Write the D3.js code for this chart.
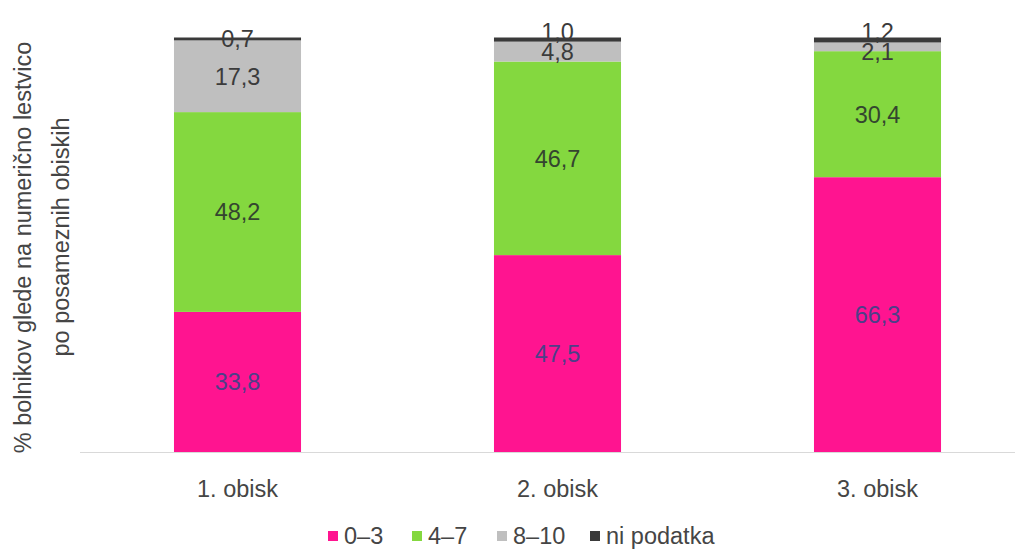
<!DOCTYPE html>
<html>
<head>
<meta charset="utf-8">
<script src="https://cdn.jsdelivr.net/npm/d3@7"></script>
<style>
  html, body { margin: 0; padding: 0; background: #ffffff; }
  svg { display: block; }
  text { font-family: "Liberation Sans", Arial, sans-serif; }
</style>
</head>
<body>
<svg id="chart" width="1022" height="549"></svg>
<script>
// Visits (categories) and the share of patients per pain-score group, in %
const categories = ["1. obisk", "2. obisk", "3. obisk"];
const seriesNames = ["0–3", "4–7", "8–10", "ni podatka"];
const values03 = [33.8, 47.5, 66.3];
const values47 = [48.2, 46.7, 30.4];
const values810 = [17.3, 4.8, 2.1];
const valuesNone = [0.7, 1.0, 1.2];
const seriesColors = ["#ff1490", "#84d83f", "#bfbfbf", "#3a3a3a"];
const labelColors = ["#4d3f88", "#34452f", "#3b3b3b", "#3b3b3b"];
const yTitle = ["% bolnikov glede na numerično lestvico", "po posameznih obiskih"];

const svg = d3.select("#chart");
const plotLeft = 80, plotRight = 1015, plotTop = 37.5, plotBottom = 452;
const fontSize = 23.5;

const rows = categories.map((c, i) => ({
  cat: c,
  "0–3": values03[i],
  "4–7": values47[i],
  "8–10": values810[i],
  "ni podatka": valuesNone[i]
}));

const layers = d3.stack().keys(seriesNames)(rows);

const x = d3.scaleBand()
  .domain(categories)
  .range([77.5, 1037.5])
  .paddingInner(0.603)
  .paddingOuter(0.3015);

const y = d3.scaleLinear().domain([0, 100]).range([plotBottom, plotTop]);

const color = d3.scaleOrdinal().domain(seriesNames).range(seriesColors);
const labelColor = d3.scaleOrdinal().domain(seriesNames).range(labelColors);

// Stacked segments
const g = svg.append("g");
layers.forEach(layer => {
  g.append("g")
    .selectAll("rect")
    .data(layer)
    .join("rect")
    .attr("x", d => x(d.data.cat))
    .attr("y", d => y(d[1]))
    .attr("width", x.bandwidth())
    .attr("height", d => y(d[0]) - y(d[1]))
    .attr("fill", color(layer.key));
});

// Category axis baseline
svg.append("line")
  .attr("x1", plotLeft).attr("x2", plotRight)
  .attr("y1", y(0) + 0.5).attr("y2", y(0) + 0.5)
  .attr("stroke", "#d9d9d9").attr("stroke-width", 1.2);

// Category labels
svg.append("g")
  .selectAll("text")
  .data(categories)
  .join("text")
  .attr("x", d => x(d) + x.bandwidth() / 2)
  .attr("y", 497)
  .attr("text-anchor", "middle")
  .attr("font-size", fontSize)
  .attr("fill", "#454545")
  .text(d => d);

// Value labels, centred on each segment; thin top segments are nudged apart
const fmt = v => d3.format(".1f")(v).replace(".", ",");
function nudge(key, d) {
  const i = categories.indexOf(d.data.cat);
  if (key === "ni podatka" && values810[i] < 10) return -8;
  if (key === "8–10" && values810[i] < 3) return 5;
  return 0;
}
layers.forEach(layer => {
  g.append("g")
    .selectAll("text")
    .data(layer)
    .join("text")
    .attr("x", d => x(d.data.cat) + x.bandwidth() / 2)
    .attr("y", d => (y(d[0]) + y(d[1])) / 2 + nudge(layer.key, d))
    .attr("dy", "0.36em")
    .attr("text-anchor", "middle")
    .attr("font-size", fontSize)
    .attr("fill", labelColor(layer.key))
    .text(d => fmt(d[1] - d[0]));
});

// Vertical axis title, two lines
const titleG = svg.append("g")
  .attr("transform", "translate(0, 245) rotate(-90)");
titleG.append("text")
  .attr("x", -2.5).attr("y", 30.5)
  .attr("text-anchor", "middle")
  .attr("font-size", fontSize)
  .attr("fill", "#454545")
  .text(yTitle[0]);
titleG.append("text")
  .attr("x", 8).attr("y", 68.5)
  .attr("text-anchor", "middle")
  .attr("font-size", fontSize)
  .attr("fill", "#454545")
  .text(yTitle[1]);

// Legend
const legendX = [328, 412, 497, 590];
const legend = svg.append("g")
  .selectAll("g")
  .data(seriesNames)
  .join("g")
  .attr("transform", (d, i) => `translate(${legendX[i]}, 536)`);
legend.append("rect")
  .attr("x", 0).attr("y", -5)
  .attr("width", 10).attr("height", 10)
  .attr("fill", d => color(d));
legend.append("text")
  .attr("x", 16).attr("y", 0)
  .attr("dy", "0.36em")
  .attr("font-size", fontSize)
  .attr("fill", "#454545")
  .text(d => d);
</script>
</body>
</html>
